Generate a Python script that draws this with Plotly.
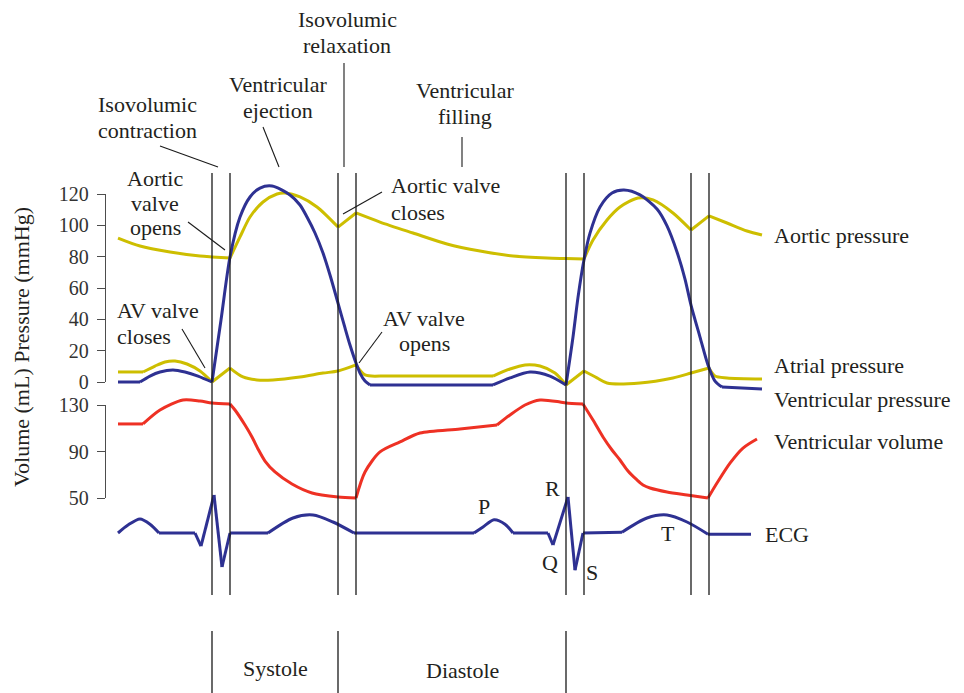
import plotly.graph_objects as go

W, H = 964, 693
FONT = "Liberation Serif"
TXT = "#231f20"
YEL = "#cdbe00"
BLU = "#2e3192"
RED = "#ee3124"

# ---------------- data (time in ms) ----------------
aortic_t = [0, 44, 104, 164, 188, 224, 244, 264, 290, 318, 334, 364, 398, 440, 476,
            524, 590, 658, 724, 790, 858, 896, 932, 950, 978, 1004, 1040, 1070, 1110,
            1146, 1182, 1218, 1258, 1288]
aortic_p = [91.9, 86.8, 83.0, 80.4, 79.8, 79.1, 92.6, 105.3, 114.9, 120.0, 120.6, 118.1,
            111.7, 98.9, 107.9, 102.1, 95.1, 88.1, 83.6, 80.4, 79.1, 78.8, 78.5, 90.6,
            103.4, 111.7, 117.4, 116.2, 107.9, 97.0, 106.0, 101.5, 96.4, 93.8]

vent_t = [0, 44, 64, 84, 110, 134, 160, 188, 206, 224, 244, 264, 284, 308, 344, 364, 378,
          394, 410, 424, 440, 454, 464, 476, 484, 494, 504, 750, 784, 824, 864, 896, 910,
          920, 932, 944, 964, 988, 1012, 1044, 1078, 1098, 1118, 1134, 1146, 1164, 1180,
          1194, 1208, 1288]
vent_p = [0, 0, 3.8, 6.4, 7.7, 6.4, 3.8, 0, 39.6, 79.8, 105.3, 118.1, 123.8, 125.1, 119.4,
          113.0, 105.3, 95.1, 82.3, 68.3, 50.4, 34.5, 23.6, 12.1, 5.7, 0.6, -1.9, -1.9,
          2.6, 6.4, 3.8, -1.9, 28.7, 54.0, 78.0, 95.0, 111.7, 120.6, 122.5, 119.4, 110.4,
          99.6, 83.0, 65.7, 49.1, 28.7, 10.9, 0.6, -3.2, -4.5]

atrial_t = [0, 50, 74, 94, 114, 138, 164, 188, 224, 250, 278, 310, 364, 410, 440, 476, 494,
            524, 750, 784, 814, 844, 874, 896, 932, 958, 978, 1044, 1110, 1146, 1182, 1194,
            1218, 1288]
atrial_p = [6.4, 6.4, 10.2, 12.8, 13.4, 11.5, 7.0, 0, 8.9, 3.2, 1.3, 1.3, 3.2, 5.7, 7.0,
            10.9, 4.5, 3.8, 3.8, 8.3, 10.9, 10.2, 5.7, -1.9, 7.0, 2.6, -0.6, -0.6, 2.6, 5.7,
            8.9, 3.8, 2.6, 1.9]

vol_t = [0, 50, 84, 130, 164, 188, 224, 234, 254, 268, 280, 294, 314, 348, 388, 440, 476,
         494, 524, 564, 604, 684, 758, 784, 814, 844, 884, 896, 930, 950, 970, 988, 1004,
         1020, 1038, 1050, 1064, 1098, 1138, 1180, 1198, 1224, 1250, 1278]
vol_ml = [113.7, 113.7, 125.7, 134.3, 133.4, 131.7, 130.9, 125.7, 112.8, 102.5, 92.2, 81.8,
          72.4, 62.0, 54.3, 50.9, 50.0, 72.4, 89.6, 98.2, 105.9, 109.4, 112.8, 121.4, 130.0,
          134.3, 132.6, 131.7, 130.9, 117.1, 102.5, 91.3, 82.7, 73.2, 65.5, 61.2, 58.6,
          55.2, 52.6, 50.0, 62.9, 80.0, 93.0, 100.8]

ecg_t = [0, 20, 44, 64, 82, 154, 166, 192, 208, 224, 300, 350, 390, 430, 472, 712, 730,
         752, 774, 790, 860, 870, 900, 914, 930, 1008, 1058, 1098, 1138, 1180, 1266]
ecg_mv = [0, 0.2, 0.35, 0.22, 0, 0, -0.33, 0.95, -0.85, 0, 0, 0.375, 0.45, 0.275, 0, 0,
          0.15, 0.33, 0.22, 0, 0, -0.3, 0.9, -0.93, 0, 0.02, 0.375, 0.45, 0.275, -0.03,
          -0.03]

# corners (times where the curve has a kink)
aortic_corners = [224, 440, 476, 932, 1146, 1182]
vent_corners = [44, 188, 504, 750, 896, 1208]
atrial_corners = [50, 188, 224, 476, 524, 750, 896, 932, 1182]
vol_corners = [50, 224, 476, 758, 930, 1180]
ecg_corners = [82, 154, 166, 192, 208, 224, 300, 472, 712, 790, 860, 870, 900, 914, 930,
               1008, 1180]

event_times = [188, 224, 440, 476, 896, 932, 1146, 1182]
phase_times = [188, 440, 896]

pressure_ticks = [0, 20, 40, 60, 80, 100, 120]
volume_ticks = [50, 90, 130]

ecg_labels = [("P", 732, 0.675), ("R", 868, 1.125), ("Q", 864, -0.725),
              ("S", 948, -0.975), ("T", 1100, 0.0)]

# ---------------- helpers ----------------
def px(x):
    return x / W


def py(y):
    return 1 - y / H


def segments(t, v, corners):
    segs, cur_t, cur_v = [], [], []
    for a, b in zip(t, v):
        cur_t.append(a)
        cur_v.append(b)
        if a in corners:
            segs.append((cur_t, cur_v))
            cur_t, cur_v = [a], [b]
    if len(cur_t) > 1:
        segs.append((cur_t, cur_v))
    return segs


fig = go.Figure()


def add_curve(t, v, corners, color, yaxis):
    for st, sv in segments(t, v, corners):
        fig.add_trace(go.Scatter(
            x=st, y=sv, mode="lines", yaxis=yaxis, showlegend=False, hoverinfo="skip",
            line=dict(color=color, width=3, shape="spline" if len(st) > 2 else "linear",
                      smoothing=0.8)))


add_curve(vol_t, vol_ml, vol_corners, RED, "y2")
add_curve(aortic_t, aortic_p, aortic_corners, YEL, "y")
add_curve(atrial_t, atrial_p, atrial_corners, YEL, "y")
add_curve(vent_t, vent_p, vent_corners, BLU, "y")
add_curve(ecg_t, ecg_mv, ecg_corners, BLU, "y3")

# dummy traces so the display axes render
fig.add_trace(go.Scatter(x=[None], y=[None], yaxis="y4", showlegend=False))
fig.add_trace(go.Scatter(x=[None], y=[None], yaxis="y5", showlegend=False))

# pixel scales: pressure 0->382px, 120->194px ; volume 130->405px, 50->498px ; ecg 0->533px
p_per = (382 - 194) / 120.0
v_per = (498 - 405) / 80.0
e_per = 40.0
t_per = 0.5  # px per ms, t=0 at x=118px

axis_common = dict(showgrid=False, zeroline=False, showline=True, linecolor="#4d4d4d",
                   linewidth=1.3, ticks="outside", ticklen=8, tickwidth=1.3,
                   tickcolor="#4d4d4d", tickfont=dict(family=FONT, size=20, color="#333"),
                   anchor="free", position=px(105), fixedrange=True,
                   ticklabelstandoff=4)

fig.update_layout(
    width=W, height=H, margin=dict(l=0, r=0, t=0, b=0, pad=0, autoexpand=False),
    paper_bgcolor="white", plot_bgcolor="rgba(0,0,0,0)",
    font=dict(family=FONT, color=TXT),
    xaxis=dict(range=[-118 / t_per, (W - 118) / t_per], domain=[0, 1], visible=False,
               fixedrange=True),
    yaxis=dict(range=[-(H - 382) / p_per, 382 / p_per], domain=[0, 1], visible=False,
               fixedrange=True),
    yaxis2=dict(range=[130 - (H - 405) / v_per, 130 + 405 / v_per], overlaying="y",
                visible=False, fixedrange=True),
    yaxis3=dict(range=[-(H - 533) / e_per, 533 / e_per], overlaying="y", visible=False,
                fixedrange=True),
    yaxis4=dict(domain=[py(382), py(194)], range=[0, 120], tickvals=pressure_ticks,
                **axis_common),
    yaxis5=dict(domain=[py(498), py(405)], range=[50, 130], tickvals=volume_ticks,
                **axis_common),
)

shapes = []
for t in event_times:
    shapes.append(dict(type="line", xref="x", yref="paper", x0=t, x1=t, y0=py(595),
                       y1=py(173), line=dict(color="#1a1a1a", width=1.3)))
for t in phase_times:
    shapes.append(dict(type="line", xref="x", yref="paper", x0=t, x1=t, y0=py(693),
                       y1=py(631), line=dict(color="#1a1a1a", width=1.3)))

leaders = [((160, 146), (218, 167)), ((263, 127), (279, 167)), ((344, 63), (344, 167)),
           ((462, 137), (462, 167)), ((188, 222), (225, 250)), ((182, 329), (205, 368)),
           ((382, 192), (343, 214)), ((382, 332), (359, 363))]
for (x0, y0), (x1, y1) in leaders:
    shapes.append(dict(type="line", xref="paper", yref="paper", x0=px(x0), y0=py(y0),
                       x1=px(x1), y1=py(y1), line=dict(color="#1a1a1a", width=1.1)))
fig.update_layout(shapes=shapes)

texts = [
    ("Isovolumic", 147, 105, "center"), ("contraction", 147, 131, "center"),
    ("Ventricular", 278, 84, "center"), ("ejection", 278, 110, "center"),
    ("Isovolumic", 347, 19, "center"), ("relaxation", 347, 45, "center"),
    ("Ventricular", 465, 91, "center"), ("filling", 465, 117, "center"),
    ("Aortic", 155, 179, "center"), ("valve", 155, 203, "center"),
    ("opens", 155, 228, "center"),
    ("AV valve", 115, 311, "left"), ("closes", 115, 337, "left"),
    ("Aortic valve", 389, 185, "left"), ("closes", 389, 212, "left"),
    ("AV valve", 424, 318, "center"), ("opens", 424, 343, "center"),
    ("Systole", 275, 668, "center"), ("Diastole", 462, 670, "center"),
    ("Aortic pressure", 772, 236, "left"), ("Atrial pressure", 772, 365, "left"),
    ("Ventricular pressure", 772, 400, "left"), ("Ventricular volume", 772, 441, "left"),
    ("ECG", 763, 534, "left"),
]
for s, x, y, anc in texts:
    fig.add_annotation(text=s, x=px(x), y=py(y), xref="paper", yref="paper",
                       xanchor=anc, yanchor="middle", showarrow=False,
                       font=dict(family=FONT, size=22, color=TXT))

for s, t, e in ecg_labels:
    fig.add_annotation(text=s, x=t, y=e, xref="x", yref="y3", xanchor="center",
                       yanchor="middle", showarrow=False,
                       font=dict(family=FONT, size=22, color=TXT))

fig.add_annotation(text="Volume (mL) Pressure (mmHg)", x=px(22), y=py(347), xref="paper",
                   yref="paper", textangle=-90, showarrow=False, xanchor="center",
                   yanchor="middle", font=dict(family=FONT, size=22, color=TXT))

fig.write_html("out.html", post_script="document.body.style.margin='0px';",
               config={"displayModeBar": False})
